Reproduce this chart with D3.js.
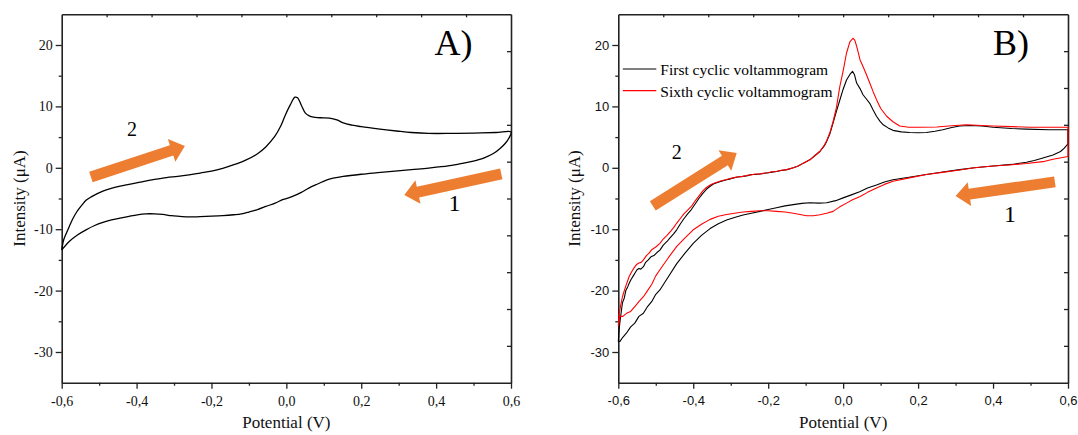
<!DOCTYPE html>
<html><head><meta charset="utf-8">
<script src="https://cdn.jsdelivr.net/npm/d3@7"></script>
<style>body{margin:0;background:#fff}svg{display:block}</style>
</head><body>
<svg id="chart" width="1078" height="435"></svg>
<script>
// Axis ticks (potential in V, current in µA)
const potentialDomain = [-0.6, 0.6];
const potentialTicks = [-0.6, -0.4, -0.2, 0, 0.2, 0.4, 0.6];
const potentialMinor = [-0.5, -0.3, -0.1, 0.1, 0.3, 0.5];
const currentDomain = [-35, 25];
const currentTicks = [20, 10, 0, -10, -20, -30];
const currentMinor = [15, 5, -5, -15, -25];

// Panel A: single voltammogram [E (V), I (µA)], forward scan then reverse scan
const cvA = [
  [-0.600,-13.4],[-0.595,-11.8],[-0.590,-11.0],[-0.580,-9.6],[-0.572,-8.5],[-0.560,-7.2],[-0.553,-6.6],
  [-0.545,-6.0],[-0.535,-5.3],[-0.520,-4.7],[-0.505,-4.2],[-0.490,-3.8],[-0.470,-3.4],[-0.444,-3.0],
  [-0.420,-2.7],[-0.400,-2.45],[-0.380,-2.2],[-0.352,-1.9],[-0.320,-1.6],[-0.290,-1.4],[-0.260,-1.15],
  [-0.230,-0.85],[-0.200,-0.55],[-0.170,-0.1],[-0.140,0.5],[-0.110,1.2],[-0.077,2.3],[-0.055,3.4],
  [-0.031,5.1],[-0.015,6.8],[-0.004,8.4],[0.010,10.2],[0.023,11.5],[0.030,11.4],[0.040,10.2],
  [0.051,8.9],[0.060,8.5],[0.069,8.3],[0.090,8.15],[0.115,8.1],[0.135,7.8],[0.152,7.3],[0.175,6.95],
  [0.200,6.7],[0.250,6.3],[0.300,5.95],[0.334,5.75],[0.380,5.6],[0.440,5.6],[0.500,5.65],[0.560,5.75],
  [0.600,5.85],
  [0.595,4.9],[0.585,4.0],[0.570,3.1],[0.555,2.4],[0.535,1.8],[0.519,1.4],[0.490,0.95],[0.460,0.6],
  [0.432,0.3],[0.380,-0.05],[0.334,-0.3],[0.290,-0.55],[0.244,-0.8],[0.200,-1.05],[0.152,-1.4],
  [0.125,-1.7],[0.107,-2.0],[0.085,-2.6],[0.060,-3.3],[0.040,-4.0],[0.015,-4.7],[-0.010,-5.2],
  [-0.030,-5.75],[-0.055,-6.3],[-0.077,-6.8],[-0.100,-7.2],[-0.120,-7.5],[-0.140,-7.65],[-0.170,-7.8],
  [-0.215,-7.9],[-0.260,-8.0],[-0.285,-7.9],[-0.307,-7.8],[-0.330,-7.6],[-0.352,-7.5],[-0.375,-7.5],
  [-0.398,-7.65],[-0.420,-7.9],[-0.444,-8.2],[-0.467,-8.5],[-0.490,-8.9],[-0.512,-9.4],[-0.535,-10.1],
  [-0.557,-10.9],[-0.580,-12.0],[-0.600,-13.4]
];

// Panel B: first cycle
const cvFirst = [
  [-0.600,-28.3],[-0.598,-26.5],[-0.596,-25.3],[-0.592,-23.4],[-0.589,-22.0],[-0.584,-21.2],[-0.580,-20.0],
  [-0.575,-19.4],[-0.571,-18.8],[-0.566,-18.2],[-0.560,-17.6],[-0.555,-17.1],[-0.550,-16.6],[-0.545,-16.4],
  [-0.540,-16.5],[-0.533,-16.1],[-0.527,-15.4],[-0.520,-15.0],[-0.513,-14.5],[-0.505,-14.3],[-0.497,-13.8],
  [-0.489,-13.4],[-0.480,-12.6],[-0.470,-12.0],[-0.462,-11.4],[-0.453,-10.8],[-0.444,-10.1],[-0.435,-9.2],
  [-0.425,-8.3],[-0.415,-7.5],[-0.405,-6.8],[-0.395,-5.9],[-0.385,-5.0],[-0.375,-4.2],[-0.365,-3.5],
  [-0.355,-3.0],[-0.345,-2.6],[-0.335,-2.4],[-0.325,-2.2],[-0.311,-1.95],[-0.300,-1.8],[-0.290,-1.6],
  [-0.280,-1.5],[-0.267,-1.4],[-0.255,-1.3],[-0.245,-1.1],[-0.235,-1.1],[-0.222,-1.0],[-0.210,-0.9],
  [-0.200,-0.8],[-0.190,-0.7],[-0.178,-0.6],[-0.165,-0.45],[-0.150,-0.3],[-0.133,0.0],[-0.120,0.3],
  [-0.105,0.8],[-0.089,1.3],[-0.075,2.0],[-0.062,2.65],[-0.050,3.6],[-0.044,4.3],[-0.035,5.6],
  [-0.027,7.3],[-0.018,9.2],[-0.009,11.0],[0.000,12.8],[0.009,14.3],[0.018,15.2],[0.025,15.7],
  [0.030,15.2],[0.036,13.8],[0.045,12.9],[0.053,11.9],[0.062,11.2],[0.071,10.5],[0.080,9.4],
  [0.089,8.4],[0.098,7.6],[0.107,7.0],[0.120,6.5],[0.133,6.1],[0.155,5.85],[0.178,5.75],[0.200,5.7],
  [0.222,5.75],[0.245,5.95],[0.266,6.2],[0.290,6.55],[0.311,6.8],[0.338,6.9],[0.370,6.8],[0.400,6.6],
  [0.450,6.4],[0.489,6.3],[0.550,6.2],[0.600,6.2],
  [0.600,3.9],[0.590,3.2],[0.580,2.65],[0.560,2.1],[0.533,1.6],[0.510,1.2],[0.489,0.9],[0.450,0.55],
  [0.400,0.3],[0.350,0.0],[0.311,-0.3],[0.270,-0.65],[0.222,-1.1],[0.180,-1.5],[0.133,-1.95],
  [0.110,-2.3],[0.089,-2.8],[0.065,-3.3],[0.044,-3.9],[0.020,-4.45],[0.000,-4.9],[-0.020,-5.35],
  [-0.044,-5.7],[-0.065,-5.75],[-0.089,-5.7],[-0.110,-5.8],[-0.133,-6.0],[-0.155,-6.2],[-0.178,-6.5],
  [-0.200,-6.8],[-0.222,-7.1],[-0.245,-7.4],[-0.267,-7.7],[-0.290,-8.1],[-0.311,-8.5],[-0.333,-9.1],
  [-0.355,-9.9],[-0.378,-11.0],[-0.400,-12.3],[-0.422,-13.9],[-0.444,-15.6],[-0.466,-17.7],
  [-0.489,-19.9],[-0.500,-20.6],[-0.511,-21.8],[-0.522,-22.6],[-0.533,-23.7],[-0.545,-24.2],
  [-0.556,-25.3],[-0.567,-25.9],[-0.578,-26.9],[-0.588,-27.6],[-0.596,-28.3],[-0.600,-28.3]
];

// Panel B: sixth cycle
const cvSixth = [
  [-0.600,-25.8],[-0.598,-24.0],[-0.594,-22.5],[-0.589,-21.0],[-0.584,-20.0],[-0.578,-18.9],[-0.571,-17.7],
  [-0.565,-17.0],[-0.558,-16.3],[-0.552,-15.8],[-0.545,-15.5],[-0.539,-15.4],[-0.533,-15.0],[-0.525,-14.3],
  [-0.518,-13.9],[-0.510,-13.3],[-0.500,-12.9],[-0.489,-12.3],[-0.480,-11.6],[-0.470,-11.0],[-0.460,-10.3],
  [-0.452,-9.7],[-0.444,-9.0],[-0.435,-8.3],[-0.425,-7.5],[-0.415,-6.9],[-0.404,-6.2],[-0.395,-5.4],
  [-0.385,-4.6],[-0.375,-3.8],[-0.365,-3.2],[-0.355,-2.8],[-0.345,-2.5],[-0.335,-2.3],[-0.325,-2.1],
  [-0.311,-1.9],[-0.300,-1.7],[-0.290,-1.6],[-0.280,-1.45],[-0.267,-1.4],[-0.255,-1.2],[-0.245,-1.15],
  [-0.235,-1.0],[-0.222,-1.0],[-0.210,-0.85],[-0.200,-0.8],[-0.190,-0.65],[-0.178,-0.6],[-0.165,-0.4],
  [-0.150,-0.3],[-0.133,0.0],[-0.120,0.3],[-0.105,0.8],[-0.089,1.3],[-0.075,2.0],[-0.062,2.7],
  [-0.050,3.7],[-0.044,4.4],[-0.035,5.8],[-0.027,7.5],[-0.018,9.8],[-0.009,13.2],[0.000,15.8],
  [0.009,18.7],[0.018,20.5],[0.026,21.1],[0.031,20.8],[0.036,19.8],[0.045,17.6],[0.053,16.5],
  [0.062,15.2],[0.071,13.8],[0.080,12.4],[0.089,11.1],[0.100,9.7],[0.116,8.4],[0.133,7.5],[0.151,6.8],
  [0.175,6.6],[0.204,6.6],[0.250,6.65],[0.290,6.85],[0.329,7.0],[0.370,6.9],[0.400,6.8],[0.450,6.7],
  [0.500,6.6],[0.600,6.6],
  [0.600,1.85],[0.560,1.4],[0.533,1.0],[0.489,0.7],[0.450,0.5],[0.400,0.3],[0.350,0.0],[0.311,-0.35],
  [0.270,-0.7],[0.222,-1.1],[0.180,-1.6],[0.133,-2.2],[0.110,-2.7],[0.089,-3.3],[0.065,-4.0],
  [0.044,-4.7],[0.025,-5.2],[0.009,-5.75],[-0.010,-6.4],[-0.027,-7.1],[-0.044,-7.4],[-0.062,-7.65],
  [-0.080,-7.8],[-0.098,-7.8],[-0.115,-7.6],[-0.133,-7.4],[-0.155,-7.2],[-0.178,-7.1],[-0.200,-7.0],
  [-0.222,-7.0],[-0.245,-7.1],[-0.267,-7.2],[-0.290,-7.4],[-0.311,-7.6],[-0.333,-7.9],[-0.355,-8.4],
  [-0.378,-9.2],[-0.400,-10.1],[-0.422,-11.4],[-0.444,-12.8],[-0.466,-14.6],[-0.489,-16.6],
  [-0.500,-17.6],[-0.511,-19.0],[-0.522,-20.0],[-0.533,-21.0],[-0.545,-21.8],[-0.556,-22.6],
  [-0.567,-23.4],[-0.578,-23.7],[-0.588,-24.2],[-0.596,-24.2],[-0.600,-25.8]
];

const legendLabels = ["First cyclic voltammogram", "Sixth cyclic voltammogram"];
const seriesColors = ["#000000", "#ff0000"];

const SERIF = "'Liberation Serif', 'Times New Roman', serif";
const SANS = "'Liberation Sans', Arial, sans-serif";
const ORANGE = "#ED7D31";
const AXIS = "#222";

const svg = d3.select("#chart");
const fmtE = d => d3.format(".1f")(d).replace(".", ",").replace("\u2212", "-");
const fmtI = d => d3.format("d")(d).replace("\u2212", "-");

function drawPanel(cfg) {
  const x = d3.scaleLinear().domain(potentialDomain).range([cfg.left, cfg.right]);
  const y = d3.scaleLinear().domain(currentDomain).range([cfg.bottom, cfg.top]);
  const g = svg.append("g");

  // top and right frame edges with ten inward divisions
  const xDiv = d3.scaleLinear().domain([0, 10]).range([cfg.left, cfg.right]);
  const yDiv = d3.scaleLinear().domain([0, 10]).range([cfg.bottom, cfg.top]);
  g.append("g").attr("transform", `translate(0,${cfg.top})`)
    .call(d3.axisTop(xDiv).tickValues(d3.range(1, 10)).tickSize(-3).tickSizeOuter(0).tickFormat(""));
  g.append("g").attr("transform", `translate(${cfg.right},0)`)
    .call(d3.axisRight(yDiv).tickValues(d3.range(1, 10)).tickSize(-4).tickSizeOuter(0).tickFormat(""));

  // bottom axis
  g.append("g").attr("transform", `translate(0,${cfg.bottom})`)
    .call(d3.axisBottom(x).tickValues(potentialMinor).tickSize(3).tickSizeOuter(0).tickFormat(""))
    .select(".domain").remove();
  const xa = g.append("g").attr("transform", `translate(0,${cfg.bottom})`)
    .call(d3.axisBottom(x).tickValues(potentialTicks).tickSize(6).tickSizeOuter(0).tickPadding(7).tickFormat(fmtE));
  xa.selectAll("text").attr("font-family", cfg.tickFont).attr("font-size", cfg.tickSize).attr("fill", "#111");

  // left axis
  g.append("g").attr("transform", `translate(${cfg.left},0)`)
    .call(d3.axisLeft(y).tickValues(currentMinor).tickSize(3).tickSizeOuter(0).tickFormat(""))
    .select(".domain").remove();
  const ya = g.append("g").attr("transform", `translate(${cfg.left},0)`)
    .call(d3.axisLeft(y).tickValues(currentTicks).tickSize(6).tickSizeOuter(0).tickPadding(3).tickFormat(fmtI));
  ya.selectAll("text").attr("font-family", cfg.tickFont).attr("font-size", cfg.tickSize).attr("fill", "#111");

  g.selectAll(".domain").attr("stroke", AXIS).attr("stroke-width", 1.6);
  g.selectAll(".tick line").attr("stroke", AXIS).attr("stroke-width", 1.3);

  // axis titles
  g.append("text").attr("x", (cfg.left + cfg.right) / 2).attr("y", 428)
    .attr("text-anchor", "middle").attr("font-family", SERIF).attr("font-size", 17).attr("fill", "#111")
    .text("Potential (V)");
  g.append("text").attr("transform", `translate(${cfg.titleX},${(cfg.top + cfg.bottom) / 2}) rotate(-90)`)
    .attr("text-anchor", "middle").attr("font-family", SERIF).attr("font-size", 17).attr("fill", "#111")
    .text("Intensity (\u03bcA)");

  // panel letter
  g.append("text").attr("x", cfg.letterX).attr("y", 55)
    .attr("font-family", SERIF).attr("font-size", 36).attr("fill", "#000").text(cfg.letter);

  // scan-direction arrows and their numbers
  cfg.arrows.forEach(a => {
    const p0 = [x(a.from[0]), y(a.from[1])], p1 = [x(a.to[0]), y(a.to[1])];
    const dx = p1[0] - p0[0], dy = p1[1] - p0[1], L = Math.hypot(dx, dy);
    const u = [dx / L, dy / L], n = [-u[1], u[0]];
    const bw = 5.5, hw = 12, hl = 14;
    const neck = [p1[0] - u[0] * hl, p1[1] - u[1] * hl];
    const pt = (b, s) => [b[0] + n[0] * s, b[1] + n[1] * s];
    const poly = [pt(p0, bw), pt(neck, bw), pt(neck, hw), p1, pt(neck, -hw), pt(neck, -bw), pt(p0, -bw)];
    g.append("polygon").attr("points", poly.map(p => p.join(",")).join(" ")).attr("fill", ORANGE);
    g.append("text").attr("x", x(a.label[0])).attr("y", y(a.label[1]))
      .attr("text-anchor", "middle").attr("dominant-baseline", "central")
      .attr("font-family", SERIF).attr("font-size", a.size).attr("fill", "#000").text(a.text);
  });

  // voltammograms
  const line = d3.line().x(d => x(d[0])).y(d => y(d[1])).curve(cfg.curve);
  cfg.series.forEach((s, i) => {
    g.append("path").datum(s).attr("d", line).attr("fill", "none")
      .attr("stroke", cfg.colors[i]).attr("stroke-width", cfg.lineWidth).attr("stroke-linejoin", "round");
  });

  // legend
  if (cfg.legend) {
    cfg.legend.forEach((label, i) => {
      const ly = 69 + i * 21.7;
      g.append("line").attr("x1", cfg.left + 4.5).attr("x2", cfg.left + 38).attr("y1", ly).attr("y2", ly)
        .attr("stroke", cfg.colors[i]).attr("stroke-width", 1.2);
      g.append("text").attr("x", cfg.left + 42).attr("y", ly + 6)
        .attr("font-family", SERIF).attr("font-size", 15.5).attr("fill", "#000").text(label);
    });
  }
}

drawPanel({
  left: 61.7, right: 511, top: 14.3, bottom: 382.7, titleX: 25,
  tickFont: SERIF, tickSize: 14, letter: "A)", letterX: 434.5,
  series: [cvA], colors: ["#000"], lineWidth: 1.3, curve: d3.curveCatmullRom.alpha(0.5),
  arrows: [
    { from: [-0.522, -1.5], to: [-0.271, 3.55], label: [-0.412, 6.3], text: "2", size: 20 },
    { from: [0.574, -1.0], to: [0.315, -4.43], label: [0.449, -5.7], text: "1", size: 24 }
  ]
});

drawPanel({
  left: 618.3, right: 1068, top: 14.3, bottom: 382.7, titleX: 580,
  tickFont: SANS, tickSize: 13, letter: "B)", letterX: 993,
  series: [cvFirst, cvSixth], colors: seriesColors, lineWidth: 1.1, curve: d3.curveLinear,
  legend: legendLabels,
  arrows: [
    { from: [-0.508, -6.2], to: [-0.284, 2.4], label: [-0.444, 2.6], text: "2", size: 20 },
    { from: [0.565, -2.3], to: [0.3, -4.6], label: [0.445, -7.5], text: "1", size: 24 }
  ]
});
</script>
</body></html>
